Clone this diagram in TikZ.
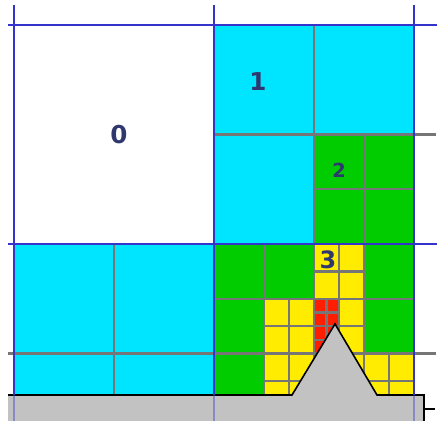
\documentclass[tikz,border=0pt]{standalone}
\usepackage{fontspec}
\setmainfont{DejaVu Sans}
\usepackage{tikz}

\definecolor{qcyan}{RGB}{0,229,255}
\definecolor{qgreen}{RGB}{0,204,0}
\definecolor{qyellow}{RGB}{255,236,0}
\definecolor{qred}{RGB}{255,30,0}
\definecolor{qgrid}{RGB}{118,118,118}
\definecolor{qblue}{RGB}{52,52,204}
\definecolor{qground}{RGB}{194,194,194}
\definecolor{qlabel}{RGB}{46,56,110}

\begin{document}
\begin{tikzpicture}[x=4cm,y=4.38cm,
    cellline/.style={draw=qgrid,line width=1.3pt},
    blueline/.style={draw=qblue,line width=1.4pt},
    groundline/.style={draw=black,line width=0.9pt,line join=miter},
    lbl/.style={text=qlabel,font=\bfseries\fontsize{14}{14}\selectfont,inner sep=0pt}]
    \useasboundingbox (-0.07,-0.8037) rectangle (2.115,1.1142);

    % Level 0 and 1 cells
    \foreach \x/\y/\s/\c in {0/0/1/white,
        1/0.5/0.5/qcyan, 1.5/0.5/0.5/qcyan, 1/0/0.5/qcyan,
        0/-0.5/0.5/qcyan, 0.5/-0.5/0.5/qcyan, 0/-1/0.5/qcyan, 0.5/-1/0.5/qcyan} {
        \draw[cellline,fill=\c] (\x,\y) rectangle ++(\s,\s);
    }
    % Level 2 cells
    \foreach \x/\y in {1.5/0.25, 1.75/0.25, 1.5/0, 1.75/0,
        1/-0.25, 1.25/-0.25, 1/-0.5, 1.75/-0.25, 1.75/-0.5, 1/-0.75} {
        \draw[cellline,fill=qgreen] (\x,\y) rectangle ++(0.25,0.25);
    }
    % Level 3 cells
    \foreach \x/\y in {1.25/-0.375, 1.375/-0.375, 1.25/-0.5, 1.375/-0.5,
        1.5/-0.125, 1.625/-0.125, 1.5/-0.25, 1.625/-0.25,
        1.625/-0.375, 1.625/-0.5,
        1.25/-0.625, 1.375/-0.625, 1.25/-0.75, 1.375/-0.75,
        1.5/-0.625, 1.625/-0.625, 1.5/-0.75, 1.625/-0.75,
        1.75/-0.625, 1.875/-0.625, 1.75/-0.75, 1.875/-0.75} {
        \draw[cellline,fill=qyellow] (\x,\y) rectangle ++(0.125,0.125);
    }
    % Level 4 cells
    \foreach \x/\y in {1.5/-0.3125, 1.5625/-0.3125, 1.5/-0.375, 1.5625/-0.375,
        1.5/-0.4375, 1.5625/-0.4375, 1.5/-0.5, 1.5625/-0.5} {
        \draw[cellline,fill=qred] (\x,\y) rectangle ++(0.0625,0.0625);
    }

    % Neighbour grid stubs
    \coordinate (stubL) at (-0.03,-0.5);
    \coordinate (stubR1) at (2.108,0.5);
    \coordinate (stubR2) at (2.108,-0.5);
    \draw[cellline] (stubL) -- (0,-0.5);
    \draw[cellline] (2,0.5) -- (stubR1);
    \draw[cellline] (2,-0.5) -- (stubR2);

    % Ground with spike
    \coordinate (gL) at (-0.03,-0.6895);
    \coordinate (tL) at (1.39,-0.6895);
    \coordinate (tTop) at (1.605,-0.365);
    \coordinate (tR) at (1.815,-0.6895);
    \coordinate (gR) at (2.05,-0.6895);
    \coordinate (gRB) at (2.05,-0.81);
    \fill[qground] (gL) -- (tL) -- (tTop) -- (tR) -- (gR) -- (gRB) -- (-0.03,-0.81) -- cycle;
    \draw[groundline] (gL) -- (tL) -- (tTop) -- (tR) -- (gR) -- (gRB);
    \draw[groundline] (2.05,-0.753) -- (2.105,-0.753);

    % Level 0 boundaries
    \foreach \x in {0,1,2} {
        \draw[blueline] (\x,1.091) -- (\x,-0.6895);
        \draw[blueline,opacity=0.4] (\x,-0.6895) -- (\x,-0.81);
    }
    \foreach \y in {0,1} {
        \draw[blueline] (-0.03,\y) -- (2.115,\y);
    }

    % Labels
    \node[lbl] (lbl0) at (0.525,0.498) {0};
    \node[lbl] (lbl1) at (1.22,0.74) {1};
    \node[lbl,font=\bfseries\fontsize{11}{11}\selectfont] (lbl2) at (1.625,0.338) {2};
    \node[lbl,font=\bfseries\fontsize{13.6}{13.6}\selectfont] (lbl3) at (1.57,-0.073) {3};
\end{tikzpicture}
\end{document}
